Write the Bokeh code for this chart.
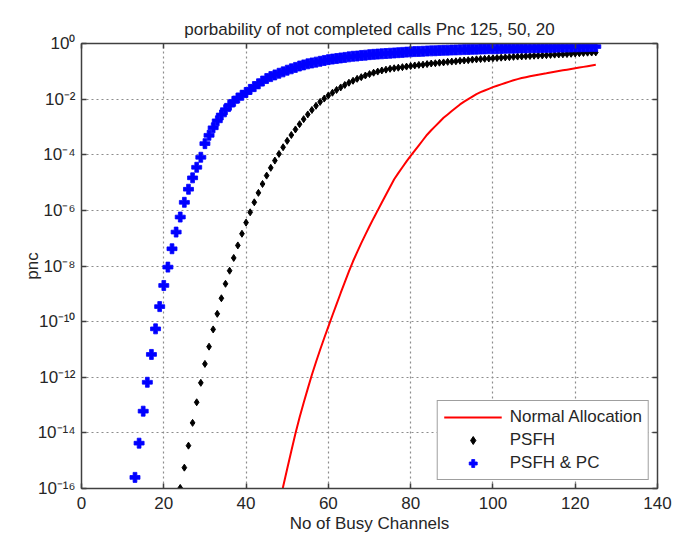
from bokeh.plotting import figure
from bokeh.models import (Range1d, FixedTicker, LinearAxis, LogAxis,
                          CustomJSTickFormatter)
from bokeh.embed import file_html
from bokeh.resources import INLINE
import numpy as np

# ---------------- data ----------------
# y values are given as log10(pnc)
x_normal = list(range(48, 126))
log_normal = [
    -16.60, -15.94, -15.29, -14.65, -14.02, -13.45, -12.92, -12.41, -11.91, -11.45,  # 48-57
    -11.01, -10.59, -10.18, -9.77, -9.37, -8.97, -8.58, -8.19, -7.83, -7.50,         # 58-67
    -7.18, -6.87, -6.57, -6.28, -6.00, -5.72, -5.44, -5.16, -4.88, -4.66,            # 68-77
    -4.45, -4.24, -4.04, -3.85, -3.66, -3.47, -3.28, -3.12, -2.97, -2.82,            # 78-87
    -2.67, -2.55, -2.43, -2.31, -2.19, -2.09, -2.00, -1.91, -1.82, -1.75,            # 88-97
    -1.69, -1.63, -1.57, -1.52, -1.47, -1.42, -1.37, -1.32, -1.28, -1.24,            # 98-107
    -1.21, -1.18, -1.15, -1.12, -1.095, -1.07, -1.04, -1.015, -0.99, -0.965,         # 108-117
    -0.94, -0.915, -0.89, -0.865, -0.84, -0.815, -0.79, -0.765,                      # 118-125
]

x_psfh = list(range(24, 126))
log_psfh = [
    -15.98, -15.25, -14.46, -13.64, -12.90, -12.20, -11.52, -10.90, -10.28, -9.72,   # 24-33
    -9.16, -8.64, -8.17, -7.71, -7.26, -6.84, -6.44, -6.07, -5.71, -5.37,            # 34-43
    -5.05, -4.75, -4.47, -4.21, -3.97, -3.73, -3.50, -3.29, -3.09, -2.90,            # 44-53
    -2.72, -2.55, -2.39, -2.24, -2.10, -1.98, -1.87, -1.77, -1.67, -1.58,            # 54-63
    -1.49, -1.41, -1.34, -1.27, -1.21, -1.15, -1.10, -1.05, -1.01, -0.97,            # 64-73
    -0.94, -0.91, -0.89, -0.87, -0.85, -0.83, -0.81, -0.79, -0.77, -0.76,            # 74-83
    -0.74, -0.72, -0.71, -0.69, -0.68, -0.66, -0.65, -0.64, -0.62, -0.61,            # 84-93
    -0.60, -0.58, -0.57, -0.56, -0.55, -0.54, -0.53, -0.52, -0.51, -0.50,            # 94-103
    -0.49, -0.48, -0.47, -0.465, -0.455, -0.45, -0.44, -0.435, -0.43, -0.42,         # 104-113
    -0.41, -0.40, -0.395, -0.39, -0.38, -0.37, -0.36, -0.35, -0.34, -0.33,           # 114-123
    -0.325, -0.32,                                                                    # 124-125
]

x_pc = list(range(13, 126))
log_pc = [
    -15.60, -14.37, -13.22, -12.18, -11.18, -10.26, -9.46, -8.70, -8.04, -7.38,      # 13-22
    -6.78, -6.24, -5.71, -5.24, -4.83, -4.45, -4.09, -3.60, -3.30, -3.03,            # 23-32
    -2.78, -2.57, -2.38, -2.22, -2.08, -1.96, -1.86, -1.76, -1.65, -1.55,            # 33-42
    -1.45, -1.35, -1.26, -1.19, -1.13, -1.07, -1.02, -0.96, -0.91, -0.86,            # 43-52
    -0.81, -0.77, -0.73, -0.70, -0.67, -0.64, -0.61, -0.58, -0.56, -0.54,            # 53-62
    -0.52, -0.50, -0.48, -0.46, -0.45, -0.43, -0.42, -0.40, -0.39, -0.38,            # 63-72
    -0.37, -0.36, -0.35, -0.34, -0.33, -0.32, -0.31, -0.30, -0.29, -0.285,           # 73-82
    -0.28, -0.27, -0.265, -0.26, -0.25, -0.245, -0.24, -0.235, -0.23, -0.225,        # 83-92
    -0.22, -0.215, -0.21, -0.205, -0.20, -0.195, -0.19, -0.19, -0.185, -0.18,        # 93-102
    -0.175, -0.17, -0.17, -0.165, -0.16, -0.16, -0.155, -0.15, -0.15, -0.145,        # 103-112
    -0.14, -0.14, -0.135, -0.13, -0.13, -0.125, -0.125, -0.12, -0.12, -0.115,        # 113-122
    -0.115, -0.11, -0.11,                                                             # 123-125
]

x_ticks = [0, 20, 40, 60, 80, 100, 120, 140]
y_tick_exponents = [0, -2, -4, -6, -8, -10, -12, -14, -16]

title_text = "porbability of not completed calls Pnc 125, 50, 20"
x_label = "No of Busy Channels"
y_label = "pnc"
labels = ["Normal Allocation", "PSFH", "PSFH & PC"]

# ---------------- figure ----------------
FONT = "Liberation Sans"
TXT = "#262626"
AX = "#404040"

p = figure(width=685, height=535, y_axis_type="log",
           x_range=Range1d(0, 140), y_range=Range1d(1e-16, 1),
           output_backend="svg", toolbar_location=None,
           min_border_left=81, min_border_right=28,
           min_border_top=43, min_border_bottom=47,
           background_fill_color="white", border_fill_color="white")

p.title.text = title_text
p.title.align = "center"
p.title.text_font = FONT
p.title.text_font_size = "17px"
p.title.text_font_style = "normal"
p.title.text_color = TXT

p.outline_line_color = AX
p.outline_line_width = 1

y_ticks = [10.0 ** e for e in y_tick_exponents]
sup_js = """
const e = Math.round(Math.log10(tick));
const sup = {'-':'\u207b','0':'\u2070','1':'\u00b9','2':'\u00b2','3':'\u00b3','4':'\u2074',
             '5':'\u2075','6':'\u2076','7':'\u2077','8':'\u2078','9':'\u2079'};
return '10' + String(e).split('').map(c => sup[c]).join('');
"""

xa = p.xaxis[0]
ya = p.yaxis[0]
xa.ticker = FixedTicker(ticks=x_ticks)
ya.ticker = FixedTicker(ticks=y_ticks)
ya.formatter = CustomJSTickFormatter(code=sup_js)
xa.axis_label = x_label
ya.axis_label = y_label

for ax in (xa, ya):
    ax.axis_line_color = AX
    ax.axis_line_width = 1.5
    ax.major_tick_line_color = AX
    ax.major_tick_line_width = 1.5
    ax.major_tick_in = 5
    ax.major_tick_out = 0
    ax.minor_tick_line_color = None
    ax.major_label_text_font = FONT
    ax.major_label_text_font_size = "17px"
    ax.major_label_text_color = TXT
    ax.axis_label_text_font = FONT
    ax.axis_label_text_font_size = "17px"
    ax.axis_label_text_font_style = "normal"
    ax.axis_label_text_color = TXT

xa.major_label_standoff = 8
xa.axis_label_standoff = 2
ya.major_label_standoff = 6
ya.axis_label_standoff = -7

# mirrored tick marks on top and right (labels invisible)
top = LinearAxis(ticker=FixedTicker(ticks=x_ticks))
right = LogAxis(ticker=FixedTicker(ticks=y_ticks))
for ax in (top, right):
    ax.axis_line_color = AX
    ax.axis_line_width = 1.5
    ax.major_tick_line_color = AX
    ax.major_tick_line_width = 1.5
    ax.major_tick_in = 5
    ax.major_tick_out = 0
    ax.minor_tick_line_color = None
    ax.major_label_text_font_size = "1px"
    ax.major_label_text_alpha = 0
    ax.major_label_standoff = 0
top.major_label_standoff = 6
p.add_layout(top, "above")
p.add_layout(right, "right")

for g in (p.xgrid[0], p.ygrid[0]):
    g.grid_line_color = "#8c8c8c"
    g.grid_line_dash = "2 3"
    g.grid_line_width = 1.2
p.ygrid[0].ticker = FixedTicker(ticks=y_ticks[1:-1])
p.xgrid[0].ticker = FixedTicker(ticks=x_ticks[1:-1])

# ---------------- series ----------------
p.line(x_normal, np.power(10.0, log_normal), line_color="#ff0000", line_width=2,
       legend_label=labels[0])
p.scatter(x_psfh, np.power(10.0, log_psfh), marker="diamond", size=7,
          fill_color="black", line_color="black", line_width=1, legend_label=labels[1])
p.scatter(x_pc, np.power(10.0, log_pc), marker="plus", size=10,
          fill_color="#0000ff", line_color="#0000ff", line_width=0.8,
          legend_label=labels[2])

lg = p.legend[0]
lg.location = "bottom_right"
lg.margin = 8
lg.padding = 6
lg.spacing = 3
lg.glyph_height = 20
lg.glyph_width = 58
lg.label_height = 20
lg.label_standoff = 8
lg.label_text_font = FONT
lg.label_text_font_size = "17px"
lg.label_text_color = TXT
lg.border_line_color = AX
lg.border_line_width = 1
lg.background_fill_color = "white"
lg.background_fill_alpha = 1

open("out.html", "w").write(file_html(p, INLINE))
